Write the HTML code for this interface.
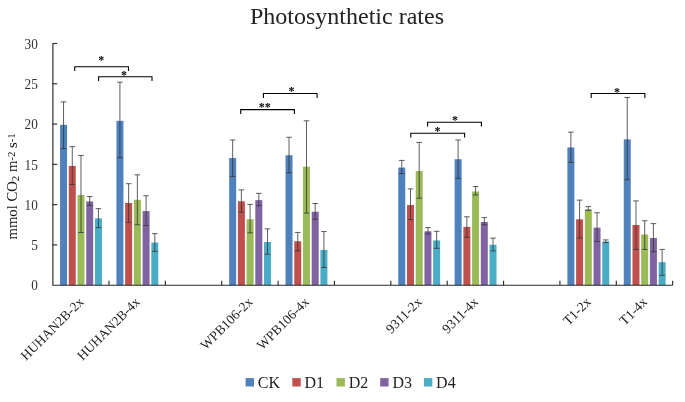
<!DOCTYPE html>
<html><head><meta charset="utf-8"><title>Photosynthetic rates</title>
<style>html,body{margin:0;padding:0;background:#fff}svg{display:block}</style></head>
<body>
<svg width="685" height="402" viewBox="0 0 685 402">
<rect width="685" height="402" fill="#fff"/>
<rect x="60.05" y="124.87" width="7.0" height="160.33" fill="#4F81BD"/>
<rect x="68.77" y="165.96" width="7.0" height="119.24" fill="#C0504D"/>
<rect x="77.49" y="194.96" width="7.0" height="90.24" fill="#9BBB59"/>
<rect x="86.21" y="201.41" width="7.0" height="83.79" fill="#8064A2"/>
<rect x="94.93" y="218.33" width="7.0" height="66.87" fill="#4BACC6"/>
<rect x="116.42" y="120.84" width="7.0" height="164.36" fill="#4F81BD"/>
<rect x="125.14" y="203.02" width="7.0" height="82.18" fill="#C0504D"/>
<rect x="133.86" y="199.80" width="7.0" height="85.40" fill="#9BBB59"/>
<rect x="142.58" y="211.08" width="7.0" height="74.12" fill="#8064A2"/>
<rect x="151.30" y="242.50" width="7.0" height="42.70" fill="#4BACC6"/>
<rect x="229.16" y="158.06" width="7.0" height="127.14" fill="#4F81BD"/>
<rect x="237.88" y="201.33" width="7.0" height="83.87" fill="#C0504D"/>
<rect x="246.60" y="219.29" width="7.0" height="65.91" fill="#9BBB59"/>
<rect x="255.32" y="200.12" width="7.0" height="85.08" fill="#8064A2"/>
<rect x="264.04" y="242.01" width="7.0" height="43.19" fill="#4BACC6"/>
<rect x="285.53" y="155.24" width="7.0" height="129.96" fill="#4F81BD"/>
<rect x="294.25" y="241.29" width="7.0" height="43.91" fill="#C0504D"/>
<rect x="302.97" y="166.76" width="7.0" height="118.44" fill="#9BBB59"/>
<rect x="311.69" y="211.72" width="7.0" height="73.48" fill="#8064A2"/>
<rect x="320.41" y="249.91" width="7.0" height="35.29" fill="#4BACC6"/>
<rect x="398.27" y="167.57" width="7.0" height="117.63" fill="#4F81BD"/>
<rect x="406.99" y="205.03" width="7.0" height="80.17" fill="#C0504D"/>
<rect x="415.71" y="171.03" width="7.0" height="114.17" fill="#9BBB59"/>
<rect x="424.43" y="231.30" width="7.0" height="53.90" fill="#8064A2"/>
<rect x="433.15" y="240.40" width="7.0" height="44.80" fill="#4BACC6"/>
<rect x="454.64" y="159.19" width="7.0" height="126.01" fill="#4F81BD"/>
<rect x="463.36" y="226.87" width="7.0" height="58.33" fill="#C0504D"/>
<rect x="472.08" y="191.50" width="7.0" height="93.70" fill="#9BBB59"/>
<rect x="480.80" y="222.03" width="7.0" height="63.17" fill="#8064A2"/>
<rect x="489.52" y="244.75" width="7.0" height="40.45" fill="#4BACC6"/>
<rect x="567.38" y="147.43" width="7.0" height="137.77" fill="#4F81BD"/>
<rect x="576.10" y="219.29" width="7.0" height="65.91" fill="#C0504D"/>
<rect x="584.82" y="209.14" width="7.0" height="76.06" fill="#9BBB59"/>
<rect x="593.54" y="227.67" width="7.0" height="57.53" fill="#8064A2"/>
<rect x="602.26" y="241.53" width="7.0" height="43.67" fill="#4BACC6"/>
<rect x="623.75" y="139.37" width="7.0" height="145.83" fill="#4F81BD"/>
<rect x="632.47" y="225.01" width="7.0" height="60.19" fill="#C0504D"/>
<rect x="641.19" y="234.52" width="7.0" height="50.68" fill="#9BBB59"/>
<rect x="649.91" y="237.99" width="7.0" height="47.21" fill="#8064A2"/>
<rect x="658.63" y="262.16" width="7.0" height="23.04" fill="#4BACC6"/>
<g stroke="#363636" stroke-width="1" stroke-opacity="0.8" fill="none">
<path d="M63.55 101.90V148.55M60.75 101.90h5.6M60.75 148.55h5.6"/>
<path d="M72.27 146.62V184.49M69.47 146.62h5.6M69.47 184.49h5.6"/>
<path d="M80.99 155.48V232.51M78.19 155.48h5.6M78.19 232.51h5.6"/>
<path d="M89.71 196.57V205.44M86.91 196.57h5.6M86.91 205.44h5.6"/>
<path d="M98.43 208.66V227.59M95.63 208.66h5.6M95.63 227.59h5.6"/>
<path d="M119.92 82.16V157.90M117.12 82.16h5.6M117.12 157.90h5.6"/>
<path d="M128.64 183.68V222.36M125.84 183.68h5.6M125.84 222.36h5.6"/>
<path d="M137.36 174.82V224.77M134.56 174.82h5.6M134.56 224.77h5.6"/>
<path d="M146.08 195.77V225.58M143.28 195.77h5.6M143.28 225.58h5.6"/>
<path d="M154.80 233.64V251.36M152.00 233.64h5.6M152.00 251.36h5.6"/>
<path d="M232.66 139.93V176.43M229.86 139.93h5.6M229.86 176.43h5.6"/>
<path d="M241.38 189.89V212.28M238.58 189.89h5.6M238.58 212.28h5.6"/>
<path d="M250.10 204.39V232.83M247.30 204.39h5.6M247.30 232.83h5.6"/>
<path d="M258.82 193.35V205.68M256.02 193.35h5.6M256.02 205.68h5.6"/>
<path d="M267.54 228.88V254.26M264.74 228.88h5.6M264.74 254.26h5.6"/>
<path d="M289.03 137.27V172.72M286.23 137.27h5.6M286.23 172.72h5.6"/>
<path d="M297.75 232.43V250.80M294.95 232.43h5.6M294.95 250.80h5.6"/>
<path d="M306.47 120.84V213.09M303.67 120.84h5.6M303.67 213.09h5.6"/>
<path d="M315.19 203.50V219.29M312.39 203.50h5.6M312.39 219.29h5.6"/>
<path d="M323.91 231.54V267.47M321.11 231.54h5.6M321.11 267.47h5.6"/>
<path d="M401.77 160.40V173.53M398.97 160.40h5.6M398.97 173.53h5.6"/>
<path d="M410.49 188.92V219.54M407.69 188.92h5.6M407.69 219.54h5.6"/>
<path d="M419.21 142.43V198.18M416.41 142.43h5.6M416.41 198.18h5.6"/>
<path d="M427.93 227.59V233.88M425.13 227.59h5.6M425.13 233.88h5.6"/>
<path d="M436.65 231.30V248.30M433.85 231.30h5.6M433.85 248.30h5.6"/>
<path d="M458.14 139.93V178.36M455.34 139.93h5.6M455.34 178.36h5.6"/>
<path d="M466.86 216.80V237.26M464.06 216.80h5.6M464.06 237.26h5.6"/>
<path d="M475.58 186.58V194.96M472.78 186.58h5.6M472.78 194.96h5.6"/>
<path d="M484.30 217.60V224.77M481.50 217.60h5.6M481.50 224.77h5.6"/>
<path d="M493.02 238.15V250.88M490.22 238.15h5.6M490.22 250.88h5.6"/>
<path d="M570.88 132.12V162.41M568.08 132.12h5.6M568.08 162.41h5.6"/>
<path d="M579.60 200.12V237.99M576.80 200.12h5.6M576.80 237.99h5.6"/>
<path d="M588.32 206.64V210.51M585.52 206.64h5.6M585.52 210.51h5.6"/>
<path d="M597.04 212.77V241.53M594.24 212.77h5.6M594.24 241.53h5.6"/>
<path d="M605.76 239.92V242.58M602.96 239.92h5.6M602.96 242.58h5.6"/>
<path d="M627.25 97.47V179.73M624.45 97.47h5.6M624.45 179.73h5.6"/>
<path d="M635.97 200.92V249.43M633.17 200.92h5.6M633.17 249.43h5.6"/>
<path d="M644.69 220.74V249.43M641.89 220.74h5.6M641.89 249.43h5.6"/>
<path d="M653.41 223.64V251.68M650.61 223.64h5.6M650.61 251.68h5.6"/>
<path d="M662.13 249.43V275.37M659.33 249.43h5.6M659.33 275.37h5.6"/>
</g>
<g stroke="#2a2a2a" stroke-width="1.15" fill="none">
<path d="M52.90 43.5V285.2H672.67"/>
<path d="M52.60 244.91h4.6"/>
<path d="M52.60 204.63h4.6"/>
<path d="M52.60 164.34h4.6"/>
<path d="M52.60 124.06h4.6"/>
<path d="M52.60 83.77h4.6"/>
<path d="M52.60 43.49h4.6"/>
<path d="M108.97 285.2v-4.4"/>
<path d="M165.34 285.2v-4.4"/>
<path d="M221.71 285.2v-4.4"/>
<path d="M278.08 285.2v-4.4"/>
<path d="M334.45 285.2v-4.4"/>
<path d="M390.82 285.2v-4.4"/>
<path d="M447.19 285.2v-4.4"/>
<path d="M503.56 285.2v-4.4"/>
<path d="M559.93 285.2v-4.4"/>
<path d="M616.30 285.2v-4.4"/>
<path d="M672.67 285.2v-4.4"/>
</g>
<g font-family="'Liberation Serif', serif" font-size="14" fill="#333" text-anchor="end">
<text transform="translate(37.8 290.40) scale(0.95 1)">0</text>
<text transform="translate(37.8 250.11) scale(0.95 1)">5</text>
<text transform="translate(37.8 209.83) scale(0.95 1)">10</text>
<text transform="translate(37.8 169.54) scale(0.95 1)">15</text>
<text transform="translate(37.8 129.26) scale(0.95 1)">20</text>
<text transform="translate(37.8 88.97) scale(0.95 1)">25</text>
<text transform="translate(37.8 48.69) scale(0.95 1)">30</text>
</g>
<g font-family="'Liberation Serif', serif" font-size="13.5" fill="#222" text-anchor="end">
<text transform="translate(78.08 296.3) rotate(-45)" x="0" y="9">HUHAN2B-2x</text>
<text transform="translate(134.46 296.3) rotate(-45)" x="0" y="9">HUHAN2B-4x</text>
<text transform="translate(247.19 296.3) rotate(-45)" x="0" y="9">WPB106-2x</text>
<text transform="translate(303.56 296.3) rotate(-45)" x="0" y="9">WPB106-4x</text>
<text transform="translate(416.31 296.3) rotate(-45)" x="0" y="9">9311-2x</text>
<text transform="translate(472.68 296.3) rotate(-45)" x="0" y="9">9311-4x</text>
<text transform="translate(585.41 296.3) rotate(-45)" x="0" y="9">T1-2x</text>
<text transform="translate(641.78 296.3) rotate(-45)" x="0" y="9">T1-4x</text>
</g>
<g stroke="#000" stroke-width="1.1" fill="none">
<path d="M74.7 71.10V66.70H128.5V71.10"/>
<path d="M98.6 81.10V76.70H152V81.10"/>
<path d="M263.4 97.90V93.50H317.1V97.90"/>
<path d="M240.7 114.00V109.60H294.4V114.00"/>
<path d="M427.6 126.60V122.20H481.4V126.60"/>
<path d="M410.8 137.60V133.20H464.6V137.60"/>
<path d="M591.2 97.90V93.50H644.9V97.90"/>
</g>
<g font-family="'Liberation Serif', serif" font-size="12" font-weight="bold" fill="#000" text-anchor="middle">
<text x="101.30" y="64.40">*</text>
<text x="124.10" y="78.60">*</text>
<text x="291.50" y="95.00">*</text>
<text x="264.80" y="111.10">**</text>
<text x="454.90" y="123.70">*</text>
<text x="437.40" y="134.60">*</text>
<text x="617.00" y="95.70">*</text>
</g>
<text x="347" y="23.9" font-family="'Liberation Serif', serif" font-size="24" fill="#222" text-anchor="middle">Photosynthetic rates</text>
<text transform="translate(17 239.5) rotate(-90)" font-family="'Liberation Serif', serif" font-size="14.7" fill="#111">mmol CO<tspan font-size="10.8" dy="2.2">2</tspan><tspan dy="-2.2"> m</tspan><tspan font-size="10.8" dy="-2.4">-2</tspan><tspan dy="2.4"> s</tspan><tspan font-size="10.8" dy="-2.4">-1</tspan></text>
<rect x="245.6" y="378.1" width="8.4" height="8.4" fill="#4F81BD"/>
<text x="257.8" y="387.8" font-family="'Liberation Serif', serif" font-size="16" fill="#222">CK</text>
<rect x="292.3" y="378.1" width="8.4" height="8.4" fill="#C0504D"/>
<text x="304.5" y="387.8" font-family="'Liberation Serif', serif" font-size="16" fill="#222">D1</text>
<rect x="336.5" y="378.1" width="8.4" height="8.4" fill="#9BBB59"/>
<text x="348.7" y="387.8" font-family="'Liberation Serif', serif" font-size="16" fill="#222">D2</text>
<rect x="380.2" y="378.1" width="8.4" height="8.4" fill="#8064A2"/>
<text x="392.4" y="387.8" font-family="'Liberation Serif', serif" font-size="16" fill="#222">D3</text>
<rect x="423.9" y="378.1" width="8.4" height="8.4" fill="#4BACC6"/>
<text x="436.09999999999997" y="387.8" font-family="'Liberation Serif', serif" font-size="16" fill="#222">D4</text>
</svg>
</body></html>
